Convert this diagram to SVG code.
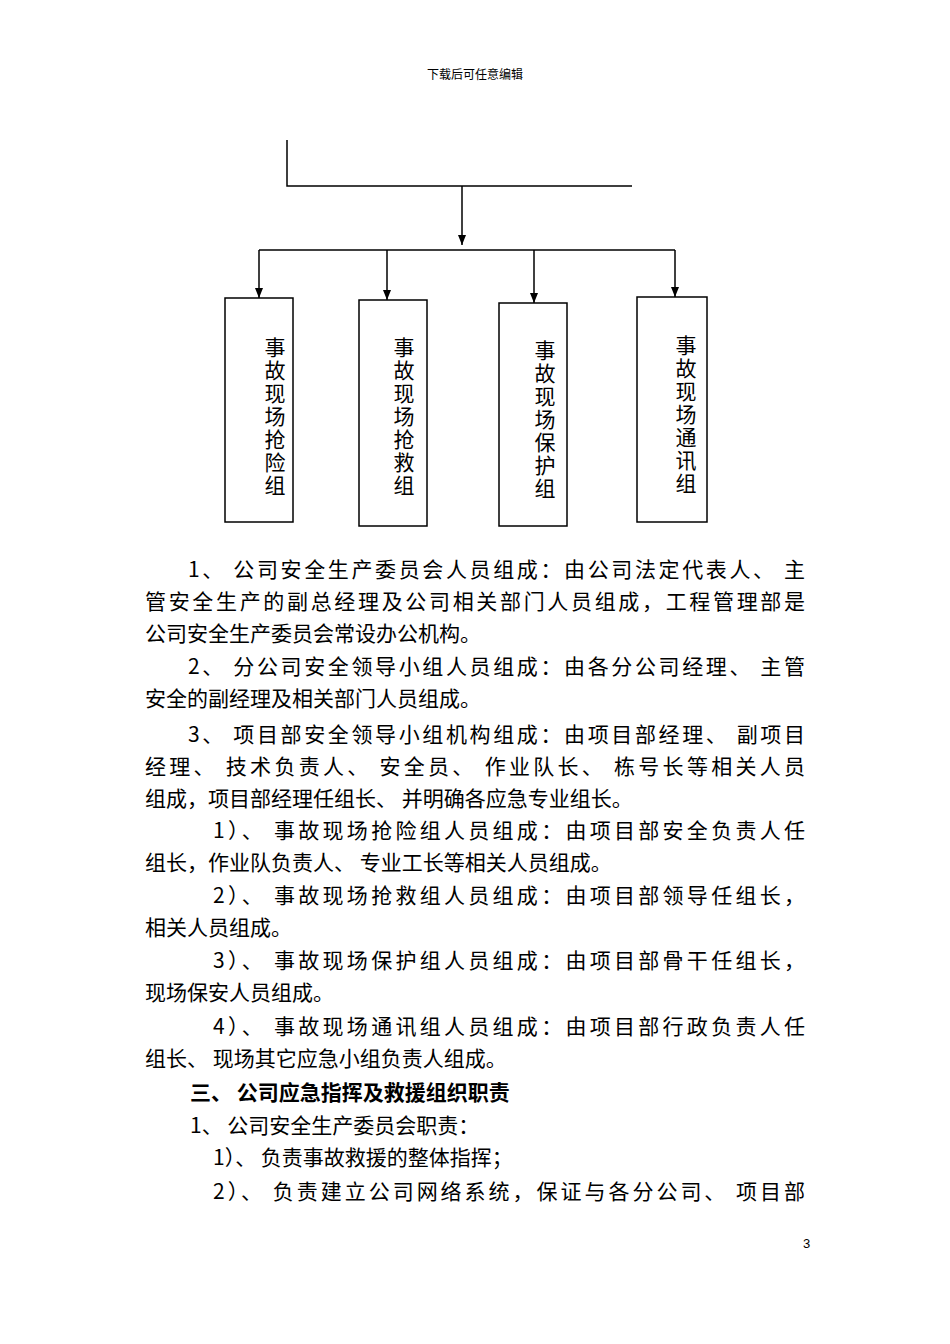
<svg xmlns="http://www.w3.org/2000/svg" width="950" height="1344" viewBox="0 0 950 1344">
<style>
.t{font-family:"Noto Sans CJK SC","Liberation Sans",sans-serif;font-size:21px;fill:#000}
.v{font-family:"Noto Sans CJK SC",sans-serif;font-size:21px;fill:#000;text-anchor:middle}
.b{fill:none;stroke:#000;stroke-width:1.5}
.l{stroke:#000;stroke-width:1.5;fill:none}
</style>
<defs><marker id="a" markerWidth="10" markerHeight="8" refX="10" refY="4" orient="auto" markerUnits="userSpaceOnUse"><path d="M0,0 L10,4 L0,8 Z" fill="#000"/></marker></defs>
<rect width="950" height="1344" fill="#fff"/>
<text x="475" y="79" font-family="Noto Sans CJK SC,sans-serif" font-size="12" text-anchor="middle">下载后可任意编辑</text>
<g id="connectors">
<path class="l" d="M287,140 V186 H632"/>
<path class="l" d="M462,186 V245" marker-end="url(#a)"/>
<path class="l" d="M259,250 H675"/>
<path class="l" d="M259,250 V298" marker-end="url(#a)"/>
<path class="l" d="M387,250 V300" marker-end="url(#a)"/>
<path class="l" d="M534,250 V303" marker-end="url(#a)"/>
<path class="l" d="M675,250 V297" marker-end="url(#a)"/>
</g>
<g id="n1"><rect class="b" x="225" y="298" width="68" height="224"/>
<text class="v" x="275" y="355">事</text><text class="v" x="275" y="378">故</text><text class="v" x="275" y="401">现</text><text class="v" x="275" y="424">场</text><text class="v" x="275" y="447">抢</text><text class="v" x="275" y="470">险</text><text class="v" x="275" y="493">组</text></g>
<g id="n2"><rect class="b" x="359" y="300" width="68" height="226"/>
<text class="v" x="404" y="355">事</text><text class="v" x="404" y="378">故</text><text class="v" x="404" y="401">现</text><text class="v" x="404" y="424">场</text><text class="v" x="404" y="447">抢</text><text class="v" x="404" y="470">救</text><text class="v" x="404" y="493">组</text></g>
<g id="n3"><rect class="b" x="499" y="303" width="68" height="223"/>
<text class="v" x="545" y="358">事</text><text class="v" x="545" y="381">故</text><text class="v" x="545" y="404">现</text><text class="v" x="545" y="427">场</text><text class="v" x="545" y="450">保</text><text class="v" x="545" y="473">护</text><text class="v" x="545" y="496">组</text></g>
<g id="n4"><rect class="b" x="637" y="297" width="70" height="225"/>
<text class="v" x="686" y="353">事</text><text class="v" x="686" y="376">故</text><text class="v" x="686" y="399">现</text><text class="v" x="686" y="422">场</text><text class="v" x="686" y="445">通</text><text class="v" x="686" y="468">讯</text><text class="v" x="686" y="491">组</text></g>
<g id="body">
<text class="t" x="188" y="577" textLength="617" lengthAdjust="spacing">1、 公司安全生产委员会人员组成：由公司法定代表人、 主</text>
<text class="t" x="145" y="609" textLength="660" lengthAdjust="spacing">管安全生产的副总经理及公司相关部门人员组成，工程管理部是</text>
<text class="t" x="145" y="641">公司安全生产委员会常设办公机构。</text>
<text class="t" x="188" y="674" textLength="617" lengthAdjust="spacing">2、 分公司安全领导小组人员组成：由各分公司经理、 主管</text>
<text class="t" x="145" y="706">安全的副经理及相关部门人员组成。</text>
<text class="t" x="188" y="742" textLength="617" lengthAdjust="spacing">3、 项目部安全领导小组机构组成：由项目部经理、 副项目</text>
<text class="t" x="145" y="774" textLength="660" lengthAdjust="spacing">经理、 技术负责人、 安全员、 作业队长、 栋号长等相关人员</text>
<text class="t" x="145" y="806">组成，项目部经理任组长、 并明确各应急专业组长。</text>
<text class="t" x="213" y="838" textLength="592" lengthAdjust="spacing">1）、 事故现场抢险组人员组成：由项目部安全负责人任</text>
<text class="t" x="145" y="870">组长，作业队负责人、 专业工长等相关人员组成。</text>
<text class="t" x="213" y="903" textLength="592" lengthAdjust="spacing">2）、 事故现场抢救组人员组成：由项目部领导任组长，</text>
<text class="t" x="145" y="935">相关人员组成。</text>
<text class="t" x="213" y="968" textLength="592" lengthAdjust="spacing">3）、 事故现场保护组人员组成：由项目部骨干任组长，</text>
<text class="t" x="145" y="1000">现场保安人员组成。</text>
<text class="t" x="213" y="1034" textLength="592" lengthAdjust="spacing">4）、 事故现场通讯组人员组成：由项目部行政负责人任</text>
<text class="t" x="145" y="1066">组长、 现场其它应急小组负责人组成。</text>
<text class="t" x="190" y="1100" font-weight="bold">三、 公司应急指挥及救援组织职责</text>
<text class="t" x="190" y="1133">1、 公司安全生产委员会职责：</text>
<text class="t" x="213" y="1165">1）、 负责事故救援的整体指挥；</text>
<text class="t" x="213" y="1199" textLength="592" lengthAdjust="spacing">2）、 负责建立公司网络系统，保证与各分公司、 项目部</text>
</g>
<text x="803" y="1248" font-family="Liberation Sans,sans-serif" font-size="13">3</text>
</svg>
